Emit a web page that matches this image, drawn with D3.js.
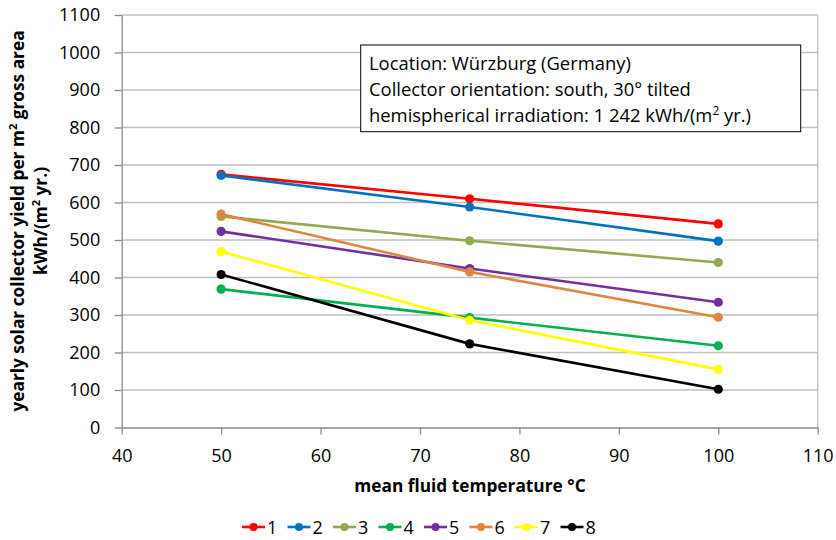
<!DOCTYPE html>
<html><head><meta charset="utf-8">
<script src="https://cdn.jsdelivr.net/npm/d3@7"></script>
<style>body{margin:0;background:#fff}svg{display:block}text{font-family:"Open Sans",sans-serif}</style>
</head><body><svg id="c" width="836" height="540"></svg>
<script>
const temps = [50, 75, 100];
const seriesNames = ["1","2","3","4","5","6","7","8"];
const colors = ["#ff0000","#0070c0","#8faa52","#00b050","#7030a0","#e0843e","#ffff00","#000000"];
const s1 = [675, 610, 543];
const s2 = [672, 588, 497];
const s3 = [563, 498, 440];
const s4 = [369, 293, 218];
const s5 = [523, 424, 334];
const s6 = [569, 415, 294];
const s7 = [469, 286, 155];
const s8 = [408, 223, 102];
const seriesValues = [s1, s2, s3, s4, s5, s6, s7, s8];
const xTicks = [40, 50, 60, 70, 80, 90, 100, 110];
const yTicks = [0,100,200,300,400,500,600,700,800,900,1000,1100];
const infoLines = ["Location: Würzburg (Germany)", "Collector orientation: south, 30° tilted"];

const svg = d3.select("#c");
const x = d3.scaleLinear().domain([40,110]).range([121.7,817.7]);
const y = d3.scaleLinear().domain([0,1100]).range([427.5,15]);

svg.append("g").selectAll("line").data(yTicks.slice(1)).join("line")
  .attr("x1", x(40)).attr("x2", x(110)).attr("y1", d=>y(d)).attr("y2", d=>y(d))
  .attr("stroke", "#bfbfbf").attr("stroke-width", 1.3);
svg.append("line").attr("x1", x(110)).attr("x2", x(110)).attr("y1", y(1100)).attr("y2", y(0))
  .attr("stroke","#bfbfbf").attr("stroke-width",1.3);

const xa = svg.append("g").attr("transform", `translate(0,${y(0)})`)
  .call(d3.axisBottom(x).tickValues(xTicks).tickFormat(d3.format("d")).tickSize(7).tickSizeOuter(0).tickPadding(0));
const ya = svg.append("g").attr("transform", `translate(${x(40)},0)`)
  .call(d3.axisLeft(y).tickValues(yTicks).tickFormat(d3.format("d")).tickSize(7).tickSizeOuter(0).tickPadding(14.5));
[xa, ya].forEach(a => {
  a.selectAll("path,line").attr("stroke", "#898989").attr("stroke-width", 1.3);
  a.selectAll("text").attr("font-size", 18).attr("fill", "#000").style("font-family","'Open Sans',sans-serif");
});
xa.selectAll("text").attr("y", 34.5).attr("dy", null);
ya.selectAll("line").attr("x2", -7);

const line = d3.line().x((d,i)=>x(temps[i])).y(d=>y(d));
seriesValues.forEach((vals, k) => {
  const g = svg.append("g");
  g.append("path").datum(vals).attr("d", line).attr("fill","none")
    .attr("stroke", colors[k]).attr("stroke-width", 2.6);
  g.selectAll("circle").data(vals).join("circle")
    .attr("cx", (d,i)=>x(temps[i])).attr("cy", d=>y(d)).attr("r", 4.6).attr("fill", colors[k]);
});

svg.append("rect").attr("x", 360.7).attr("y", 45).attr("width", 440).attr("height", 86.7)
  .attr("fill","#fff").attr("stroke","#000").attr("stroke-width",1);
const tb = svg.append("g").attr("font-size", 18.4).attr("fill","#000");
tb.append("text").attr("x", 369).attr("y", 70).text(infoLines[0]);
tb.append("text").attr("x", 369).attr("y", 96).text(infoLines[1]);
const t3 = tb.append("text").attr("x", 369).attr("y", 122);
t3.append("tspan").text("hemispherical irradiation: 1 242 kWh/(m");
t3.append("tspan").attr("font-size", 12).attr("dy", -7).text("2");
t3.append("tspan").attr("dy", 7).text(" yr.)");

svg.append("text").attr("x", 470).attr("y", 492).attr("text-anchor","middle")
  .attr("font-size", 17.3).attr("font-weight","bold").text("mean fluid temperature °C");
const yt = svg.append("g").attr("transform", "translate(0,221) rotate(-90)")
  .attr("font-size", 17.3).attr("font-weight","bold").attr("text-anchor","middle");
const l1 = yt.append("text").attr("x", 0).attr("y", 24);
l1.append("tspan").text("yearly  solar collector yield per m");
l1.append("tspan").attr("font-size", 11).attr("dy", -7).text("2");
l1.append("tspan").attr("dy", 7).text(" gross area");
const l2 = yt.append("text").attr("x", 0).attr("y", 47);
l2.append("tspan").text("kWh/(m");
l2.append("tspan").attr("font-size", 11).attr("dy", -7).text("2");
l2.append("tspan").attr("dy", 7).text(" yr.)");

const leg = svg.append("g").attr("transform","translate(242,527)");
seriesNames.forEach((n,k) => {
  const gx = k*45.5;
  const g = leg.append("g").attr("transform", `translate(${gx},0)`);
  g.append("line").attr("x1",0).attr("x2",23).attr("y1",0).attr("y2",0)
    .attr("stroke", colors[k]).attr("stroke-width", 2.6);
  g.append("circle").attr("cx", 11.5).attr("cy", 0).attr("r", 4).attr("fill", colors[k]);
  g.append("text").attr("x", 25).attr("y", 6.5).attr("font-size", 18).text(n);
});
</script></body></html>
